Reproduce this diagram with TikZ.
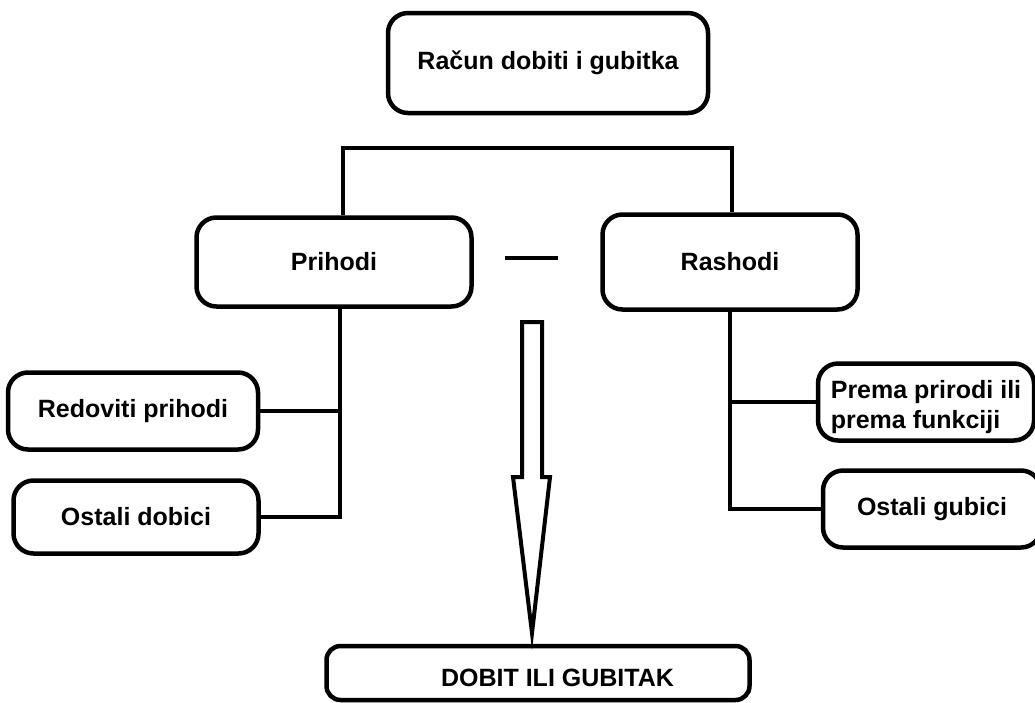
\documentclass[tikz,border=0pt]{standalone}
\usepackage{fontspec}
\setmainfont{Liberation Sans}
\usepackage{tikz}
\usetikzlibrary{calc}

\begin{document}
\begin{tikzpicture}[x=1pt,y=-1pt,line width=4.5pt,
    box/.style={draw,rounded corners=20pt,inner sep=6pt,font=\fontsize{25}{30}\selectfont\bfseries}]
          \useasboundingbox (0,0) rectangle (1035,702);

          \node[box,minimum width=320pt,minimum height=100pt] (racun) at (548,63) {Račun dobiti i gubitka};

          \node[box,minimum width=275pt,minimum height=89pt] (prihodi) at (334,262) {Prihodi};
          \node[box,minimum width=255pt,minimum height=95pt] (rashodi) at (730,262) {Rashodi};
          \coordinate (split) at (540,148);
          \draw ([xshift=9pt]prihodi.north) |- (split) -| ([xshift=2pt]rashodi.north);

          \draw[line cap=butt] (505,258) -- (558,258);

          \node[box,minimum width=250pt,minimum height=77pt] (redoviti) at (133,411) {Redoviti prihodi};
          \node[box,minimum width=245pt,minimum height=73pt] (dobici) at (136,517) {Ostali dobici};
          \draw ([xshift=6pt]prihodi.south) coordinate (lt) |- (dobici.east);
          \draw (redoviti.east) -- (redoviti.east -| lt);

          \node[box,minimum width=216pt,minimum height=77pt,align=left] (prema) at (926,402) {\raisebox{-5pt}[\height][\depth]{Prema prirodi ili}\\\raisebox{-5pt}[\height][\depth]{prema funkciji}};
          \node[box,minimum width=218pt,minimum height=77pt] (gubici) at (932,509) {Ostali gubici};
          \draw (rashodi.south) coordinate (rt) |- (gubici.west);
          \draw (prema.west) -- (prema.west -| rt);

          \draw[line width=4pt,line join=miter] (522,322) -- (542,322) -- (542,477) -- (550,477)
                -- (532,633) -- (513,477) -- (522,477) -- cycle;

          \node[box,rounded corners=14pt,minimum width=423pt,minimum height=54pt] (dobit) at (538,673) {\hspace*{39pt}\raisebox{-5pt}[\height][\depth]{DOBIT ILI GUBITAK}};
        \end{tikzpicture}
\end{document}
